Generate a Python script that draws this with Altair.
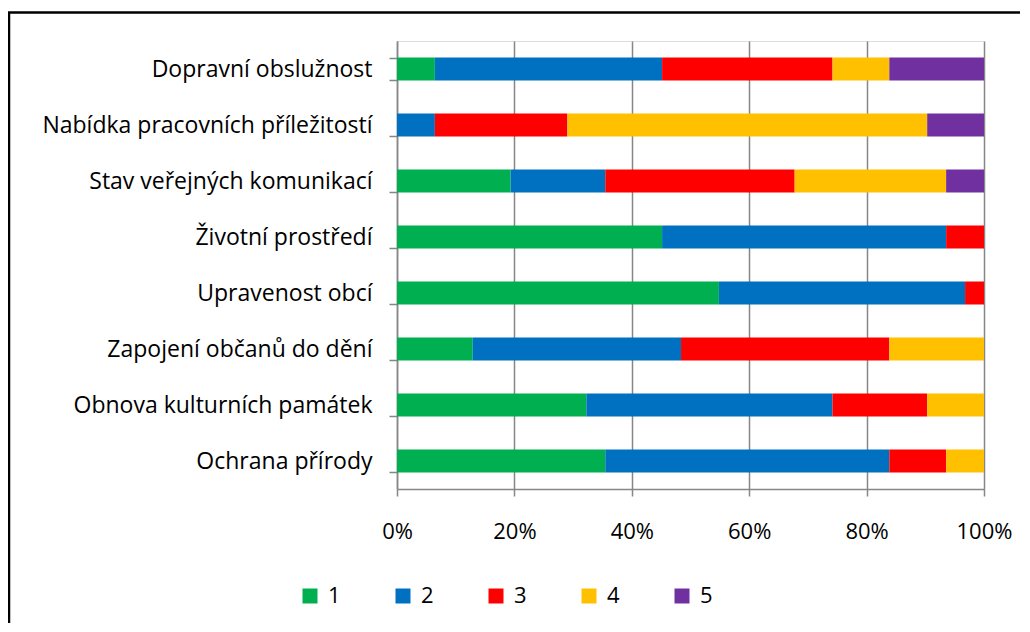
import altair as alt
import pandas as pd

categories = [
    "Dopravní obslužnost",
    "Nabídka pracovních příležitostí",
    "Stav veřejných komunikací",
    "Životní prostředí",
    "Upravenost obcí",
    "Zapojení občanů do dění\u00a0",
    "Obnova kulturních památek",
    "Ochrana přírody",
]
series_names = ["1", "2", "3", "4", "5"]
s1 = [2, 0, 6, 14, 17, 4, 10, 11]
s2 = [12, 2, 5, 15, 13, 11, 13, 15]
s3 = [9, 7, 10, 2, 1, 11, 5, 3]
s4 = [3, 19, 8, 0, 0, 5, 3, 2]
s5 = [5, 3, 2, 0, 0, 0, 0, 0]
colors = ["#00B050", "#0070C0", "#FF0000", "#FFC000", "#7030A0"]

rows = []
for si, (name, vals) in enumerate(zip(series_names, [s1, s2, s3, s4, s5])):
    for cat, v in zip(categories, vals):
        rows.append({"kategorie": cat, "hodnoceni": name, "order": si, "pocet": v})
df = pd.DataFrame(rows)

FONT = "Open Sans"
GRAY = "#868686"

bars = alt.Chart(df).mark_bar(size=23).encode(
    x=alt.X(
        "pocet:Q",
        stack="normalize",
        scale=alt.Scale(domain=[0, 1], nice=False),
        axis=alt.Axis(
            values=[0, 0.2, 0.4, 0.6, 0.8, 1.0],
            format="%",
            title=None,
            grid=True,
            gridColor=GRAY,
            gridWidth=1.5,
            domainColor=GRAY,
            domainWidth=1.5,
            tickColor=GRAY,
            tickWidth=1.5,
            tickSize=7,
            labelFont=FONT,
            labelFontSize=22,
            labelColor="black",
            labelPadding=25,
            labelFlush=False,
        ),
    ),
    y=alt.Y(
        "kategorie:N",
        sort=categories,
        scale=alt.Scale(paddingInner=0.59, paddingOuter=0.295),
        axis=alt.Axis(
            title=None,
            grid=False,
            tickBand="extent",
            domainColor=GRAY,
            domainWidth=1.5,
            tickColor=GRAY,
            tickWidth=1.5,
            tickSize=8,
            labelFont=FONT,
            labelFontSize=23,
            labelColor="black",
            labelPadding=17,
            labelLimit=400,
        ),
    ),
    color=alt.Color(
        "hodnoceni:N",
        scale=alt.Scale(domain=series_names, range=colors),
        legend=alt.Legend(
            title=None,
            orient="none",
            direction="horizontal",
            legendX=-98,
            legendY=544,
            padding=0,
            symbolType="square",
            symbolSize=225,
            symbolStrokeWidth=0,
            symbolOpacity=1,
            labelFont=FONT,
            labelFontSize=22,
            labelColor="black",
            labelOffset=7,
            columnPadding=51,
        ),
    ),
    order=alt.Order("order:Q", sort="ascending"),
)

frame = alt.Chart(alt.Data(values=[{}])).mark_rect(
    filled=False, stroke="black", strokeWidth=2.5
).encode(
    x=alt.value(-388),
    x2=alt.value(800),
    y=alt.value(-28.5),
    y2=alt.value(800),
)

chart = (
    alt.layer(bars, frame)
    .properties(
        width=587,
        height=448,
        autosize=alt.AutoSizeParams(type="none"),
        padding={"left": 389, "top": 33, "right": 36, "bottom": 134},
    )
    .configure_view(stroke=None)
    .configure(background="white")
)

chart.save("out.html", embed_options={"renderer": "svg", "actions": False})
